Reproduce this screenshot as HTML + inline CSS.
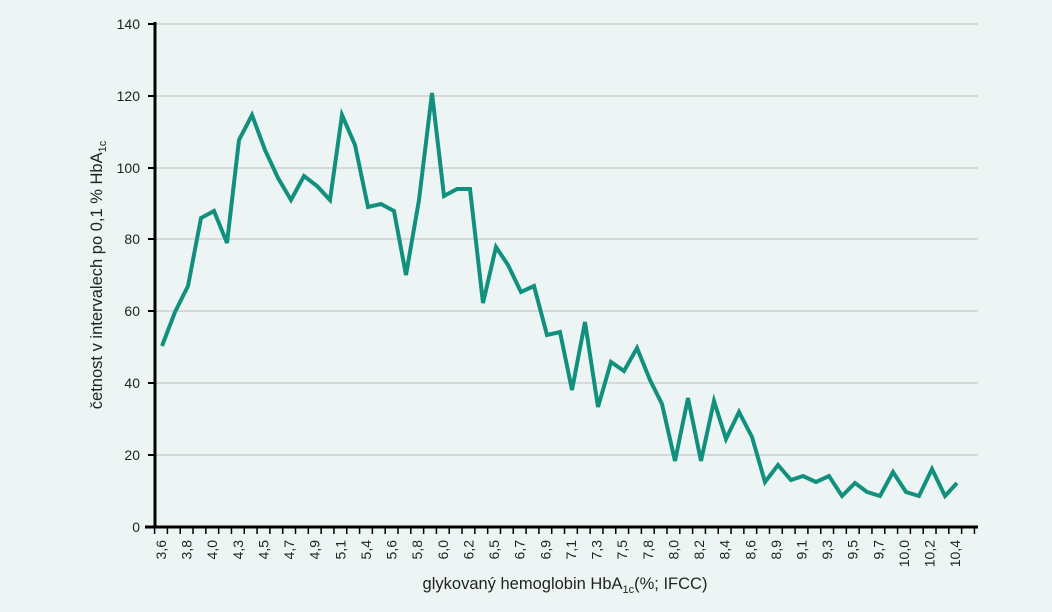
<!DOCTYPE html>
<html><head><meta charset="utf-8"><style>
body{margin:0;background:#edf5f4;}
svg{display:block;font-family:"Liberation Sans",sans-serif;}
</style></head><body>
<svg width="1052" height="612" viewBox="0 0 1052 612">
<rect width="1052" height="612" fill="#edf5f4"/>
<g stroke="#bdbdbd" stroke-width="1">
<line x1="155" y1="24" x2="978" y2="24"/><line x1="155" y1="96" x2="978" y2="96"/>
<line x1="155" y1="168" x2="978" y2="168"/><line x1="155" y1="239" x2="978" y2="239"/>
<line x1="155" y1="311" x2="978" y2="311"/><line x1="155" y1="383" x2="978" y2="383"/>
<line x1="155" y1="455" x2="978" y2="455"/>
</g>
<g stroke="#000" stroke-width="3">
<line x1="155" y1="22" x2="155" y2="528"/>
<line x1="145" y1="527" x2="978" y2="527"/>
</g>
<g stroke="#000" stroke-width="2">
<line x1="148" y1="24" x2="155" y2="24"/><line x1="148" y1="96" x2="155" y2="96"/>
<line x1="148" y1="168" x2="155" y2="168"/><line x1="148" y1="239" x2="155" y2="239"/>
<line x1="148" y1="311" x2="155" y2="311"/><line x1="148" y1="383" x2="155" y2="383"/>
<line x1="148" y1="455" x2="155" y2="455"/>
</g>
<g id="ticks" stroke="#000" stroke-width="1.5"></g>
<g font-size="14" fill="#222" text-anchor="end">
<text x="140" y="29">140</text><text x="140" y="101">120</text><text x="140" y="173">100</text>
<text x="140" y="244">80</text><text x="140" y="316">60</text><text x="140" y="388">40</text>
<text x="140" y="460">20</text><text x="140" y="532">0</text>
</g>
<g id="xl" font-size="14" fill="#222" text-anchor="end"></g>
<polyline fill="none" stroke="#12907e" stroke-width="4" stroke-linejoin="miter" points="162,346 175,312 188,286 201,218 214,211 227,243 239,140 252,115 265,150 278,178 291,200 304,176 317,186 330,200 342,115 355,145 368,207 381,204 394,211 406,275 419,200 432,93 444,196 457,189 470,189 483,303 496,247 508,265 521,292 534,286 547,335 560,332 572,390 585,322 598,407 611,362 624,371 637,348 650,380 662,404 675,461 688,398 701,461 714,401 726,439 739,412 752,437 765,482 778,465 791,480 803,476 816,482 829,476 842,496 855,483 867,492 880,496 893,472 906,492 919,496 932,469 945,496 957,483"/>
<text transform="translate(102,275) rotate(-90)" font-size="16.5" fill="#222" text-anchor="middle">četnost v intervalech po 0,1 % HbA<tspan font-size="11" dy="4">1c</tspan></text>
<text x="565" y="589" font-size="16.5" fill="#222" text-anchor="middle">glykovaný hemoglobin HbA<tspan font-size="11" dy="4">1c</tspan><tspan dy="-4">(%; IFCC)</tspan></text>
</svg>
<script>
var ns="http://www.w3.org/2000/svg";
var t=document.getElementById("ticks");
for(var i=0;i<65;i++){var x=154.6+12.81*i;if(x>979)break;var l=document.createElementNS(ns,"line");
l.setAttribute("x1",x);l.setAttribute("x2",x);l.setAttribute("y1",527);l.setAttribute("y2",534);t.appendChild(l);}
var labs=["3,6","3,8","4,0","4,3","4,5","4,7","4,9","5,1","5,4","5,6","5,8","6,0","6,2","6,5","6,7","6,9","7,1","7,3","7,5","7,8","8,0","8,2","8,4","8,6","8,9","9,1","9,3","9,5","9,7","10,0","10,2","10,4"];
var g=document.getElementById("xl");
labs.forEach(function(s,k){var x=161+12.81*2*k+5;var e=document.createElementNS(ns,"text");
e.setAttribute("transform","translate("+x+",540) rotate(-90)");e.textContent=s;g.appendChild(e);});
</script>
</body></html>
